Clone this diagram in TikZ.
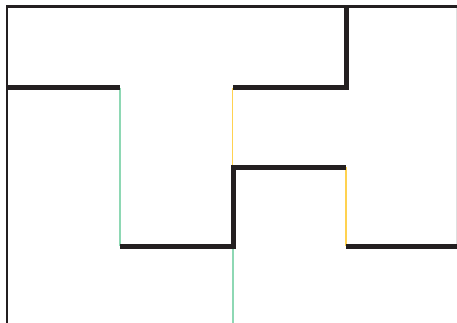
\documentclass[tikz,border=0pt]{standalone}
\definecolor{ink}{HTML}{231F20}
\definecolor{mint}{HTML}{8ED8B4}
\definecolor{gold}{HTML}{FFD250}
\begin{document}
\begin{tikzpicture}[x=1pt,y=-1pt,
  wall/.style={draw=ink,line width=5pt,line join=miter},
  frame/.style={draw=ink,line width=2.4pt,line join=miter},
  greenline/.style={draw=mint,line width=1.6pt},
  goldline/.style={draw=gold,line width=1.6pt}]
\useasboundingbox (0,0) rectangle (457,323);
\coordinate (bl) at (7,323);
\coordinate (tl) at (7,6.5);
\coordinate (tr) at (457,6.5);
\coordinate (a1) at (7,88);
\coordinate (a2) at (120,88);
\coordinate (b1) at (120,246);
\coordinate (b2) at (233,246);
\coordinate (b3) at (233,167);
\coordinate (b4) at (346,167);
\coordinate (c1) at (346,246);
\coordinate (c2) at (457,246);
\coordinate (g2) at (233,323);
\coordinate (d1) at (232.5,88);
\coordinate (d2) at (232.5,167);
\coordinate (e1) at (233,88);
\coordinate (e2) at (346.5,88);
\coordinate (e3) at (346.5,6.5);
% faint right edge
\draw[gray!25,line width=0.8pt] (456.5,6.5) -- (456.5,246);
% coloured lines
\draw[greenline] (a2) -- (b1);
\draw[greenline] (b2) -- (g2);
\draw[goldline] (b4) -- (c1);
\draw[goldline] (d1) -- (d2);
% frame
\draw[frame] (bl) -- (tl) -- (tr);
% thick walls
\draw[wall] (a1) -- (a2);
\draw[wall] (b1) -- (b2) -- (b3) -- (b4);
\draw[wall] (c1) -- (c2);
\draw[wall] (e1) -- (e2) -- (e3);
\end{tikzpicture}
\end{document}
